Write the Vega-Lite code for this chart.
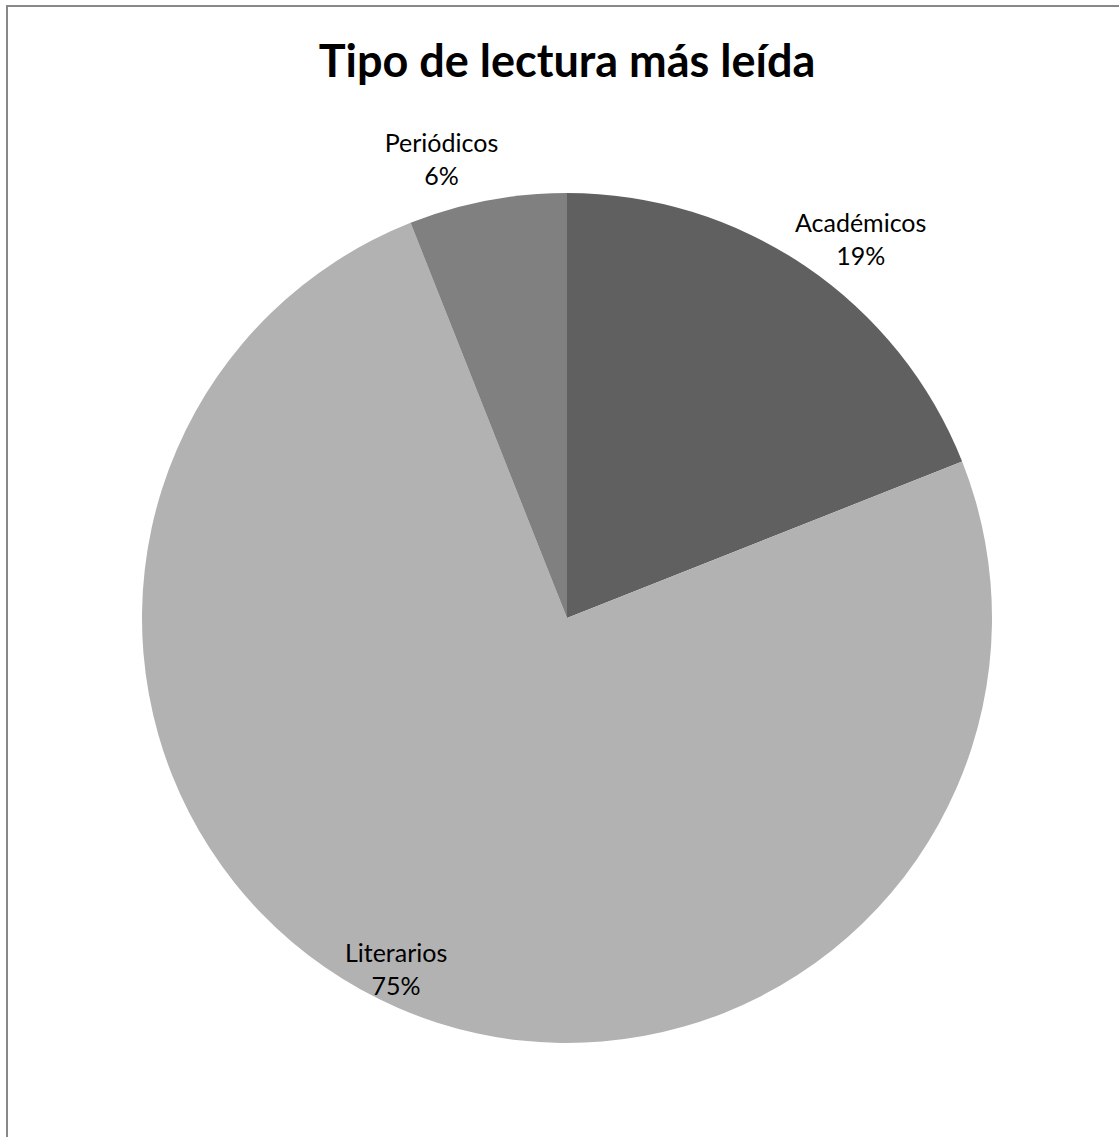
{
  "$schema": "https://vega.github.io/schema/vega-lite/v6.json",
  "autosize": "none",
  "width": 1120,
  "height": 1224,
  "padding": {"left": 7, "top": 6, "right": 0, "bottom": 0},
  "background": "white",
  "config": {"view": {"stroke": null}, "font": "Lato"},
  "title": {"text": "Tipo de lectura más leída", "fontSize": 45, "font": "Lato", "fontWeight": "bold", "color": "black", "anchor": "middle", "offset": -81},
  "data": {"values": [
    {"Tipo": "Académicos", "Porcentaje": 19, "etiqueta": "Académicos\n19%"},
    {"Tipo": "Literarios", "Porcentaje": 75, "etiqueta": "Literarios\n75%"},
    {"Tipo": "Periódicos", "Porcentaje": 6, "etiqueta": "Periódicos\n6%"}
  ]},
  "layer": [
    {"mark": {"type": "rect", "fill": "white", "fillOpacity": 0, "stroke": "#888888", "strokeWidth": 2},
     "encoding": {}},
    {"mark": {"type": "arc", "outerRadius": 425},
     "encoding": {"theta": {"field": "Porcentaje", "type": "quantitative", "stack": true},
       "color": {"field": "Tipo", "type": "nominal", "legend": null,
       "scale": {"domain": ["Académicos", "Literarios", "Periódicos"], "range": ["#606060", "#b2b2b2", "#808080"]}}}},
    {"mark": {"type": "text", "radius": 479, "thetaOffset": 0.063, "dy": -16, "fontSize": 25, "lineBreak": "\n", "lineHeight": 33, "align": "center", "baseline": "middle", "color": "black"},
     "encoding": {"theta": {"field": "Porcentaje", "type": "quantitative", "stack": true},
       "detail": {"field": "Tipo", "type": "nominal"},
       "text": {"condition": {"test": "datum.Tipo === 'Académicos'", "field": "etiqueta", "type": "nominal"}, "value": ""}}},
    {"mark": {"type": "text", "radius": 391, "thetaOffset": 0.044, "dy": -16, "fontSize": 25, "lineBreak": "\n", "lineHeight": 33, "align": "center", "baseline": "middle", "color": "black"},
     "encoding": {"theta": {"field": "Porcentaje", "type": "quantitative", "stack": true},
       "detail": {"field": "Tipo", "type": "nominal"},
       "text": {"condition": {"test": "datum.Tipo === 'Literarios'", "field": "etiqueta", "type": "nominal"}, "value": ""}}},
    {"mark": {"type": "text", "radius": 475, "thetaOffset": -0.079, "dy": -16, "fontSize": 25, "lineBreak": "\n", "lineHeight": 33, "align": "center", "baseline": "middle", "color": "black"},
     "encoding": {"theta": {"field": "Porcentaje", "type": "quantitative", "stack": true},
       "detail": {"field": "Tipo", "type": "nominal"},
       "text": {"condition": {"test": "datum.Tipo === 'Periódicos'", "field": "etiqueta", "type": "nominal"}, "value": ""}}}
  ]
}
